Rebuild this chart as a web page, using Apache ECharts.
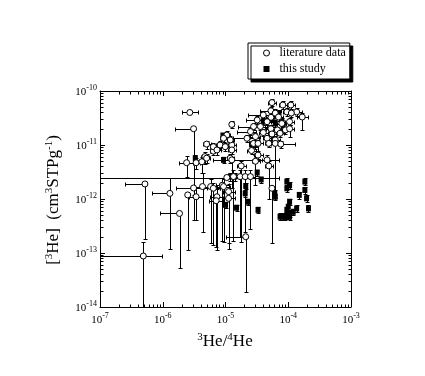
<!DOCTYPE html>
<html>
<head>
<meta charset="utf-8">
<script src="https://cdn.jsdelivr.net/npm/echarts@6/dist/echarts.min.js"></script>
<style>
  html, body { margin: 0; padding: 0; background: #fff; }
  #chart { width: 425px; height: 376px; }
</style>
</head>
<body>
<div id="chart"></div>
<script>
// axis ranges and tick decades
var xRange = [1e-7, 1e-3]
var yRange = [1e-14, 1e-10]
var xDecades = [-7, -6, -5, -4, -3]
var yDecades = [-14, -13, -12, -11, -10]
var mantissas = [2, 3, 4, 5, 6, 7, 8, 9]

// literature data: [3He/4He, [3He], xLow, xHigh, yLow, yHigh]
var literatureData = [
  [2.7e-6, 4.0e-11, 2.0e-6, 3.7e-6, null, null],
  [3.1e-6, 2.0e-11, 1.57e-6, 3.1e-6, 1.2e-12, 2.0e-11],
  [5.2e-7, 1.9e-12, 2.5e-7, 5.2e-7, 1.8e-13, 1.9e-12],
  [4.9e-7, 8.8e-14, 1.0e-7, 9.6e-7, 1.0e-14, 1.6e-13],
  [1.3e-6, 1.27e-12, 6.7e-7, 1.3e-6, 1.2e-13, 2.4e-12],
  [2.5e-6, 1.19e-12, null, null, 1.14e-13, 1.19e-12],
  [1.85e-6, 5.4e-13, 9.0e-7, 1.85e-6, 5.2e-14, 5.4e-13],
  [2.1e-5, 2.0e-13, 1.0e-5, 2.1e-5, 1.9e-14, 2.0e-13],
  [5.5e-5, 1.58e-12, null, null, 1.5e-13, 1.58e-12],
  [1.05e-5, 2.5e-12, 1.0e-7, 7.0e-5, null, null],
  [2.4e-6, 4.7e-12, 1.8e-6, 3.3e-6, 2.6e-12, 6.3e-12],
  [3.4e-6, 4.7e-12, 3.0e-6, 3.9e-6, 3.6e-12, 5.8e-12],
  [4.2e-6, 4.9e-12, 3.6e-6, 4.8e-6, 3.0e-12, 6.0e-12],
  [4.7e-6, 6.1e-12, 4.1e-6, 5.4e-6, 4.5e-12, 7.3e-12],
  [5.0e-6, 5.7e-12, 4.4e-6, 5.7e-6, 4.6e-12, 6.8e-12],
  [6.4e-6, 7.7e-12, 5.6e-6, 7.4e-6, 6.4e-12, 9.0e-12],
  [1.19e-5, 5.7e-12, 1.04e-5, 1.36e-5, 4.7e-12, 6.8e-12],
  [5.0e-6, 1.04e-11, 4.3e-6, 5.9e-6, 8.5e-12, 1.2e-11],
  [6.4e-6, 9.3e-12, 5.6e-6, 7.4e-6, 7.5e-12, 1.1e-11],
  [7.3e-6, 8.1e-12, 6.3e-6, 8.5e-6, 6.5e-12, 9.8e-12],
  [8.2e-6, 1.0e-11, 7.0e-6, 9.6e-6, 8.2e-12, 1.2e-11],
  [9.9e-6, 9.3e-12, 8.5e-6, 1.15e-5, 7.6e-12, 1.1e-11],
  [1.26e-5, 1.0e-11, 1.1e-5, 1.45e-5, 8.3e-12, 1.2e-11],
  [1.26e-5, 8.1e-12, 1.1e-5, 1.45e-5, 6.8e-12, 9.6e-12],
  [1.05e-5, 1.53e-11, 9.2e-6, 1.2e-5, 1.3e-11, 1.8e-11],
  [1.26e-5, 2.4e-11, 1.15e-5, 1.38e-5, 2.1e-11, 2.75e-11],
  [9.3e-6, 1.33e-11, 8.2e-6, 1.06e-5, 1.15e-11, 1.55e-11],
  [1.19e-5, 1.24e-11, 1.05e-5, 1.35e-5, 1.05e-11, 1.45e-11],
  [1.26e-5, 5.3e-12, 6.4e-6, 4.6e-5, 1.6e-12, 5.3e-12],
  [3.0e-5, 5.0e-12, 2.6e-5, 3.5e-5, 1.8e-12, 6.5e-12],
  [4.6e-5, 5.3e-12, 3.8e-5, 7.0e-5, 4.1e-12, 6.5e-12],
  [1.78e-5, 4.1e-12, 1.5e-5, 2.1e-5, 1.6e-13, 5.0e-12],
  [4.9e-5, 4.1e-12, 4.2e-5, 5.7e-5, 1.0e-12, 5.0e-12],
  [3.1e-6, 1.6e-12, 1.6e-6, 8.2e-6, 4.0e-13, 1.6e-12],
  [3.4e-6, 1.1e-12, 2.6e-6, 4.4e-6, 4.1e-13, 1.6e-12],
  [4.3e-6, 1.7e-12, 3.3e-6, 5.6e-6, 2.5e-13, 3.0e-12],
  [5.8e-6, 1.7e-12, 4.6e-6, 7.3e-6, 1.5e-13, 2.3e-12],
  [6.4e-6, 1.58e-12, 5.0e-6, 8.2e-6, 1.4e-13, 2.0e-12],
  [7.3e-6, 1.1e-12, 5.6e-6, 9.5e-6, 1.14e-13, 1.5e-12],
  [7.1e-6, 9.3e-13, 5.5e-6, 9.2e-6, 1.3e-13, 1.2e-12],
  [8.9e-6, 1.8e-12, 7.0e-6, 1.13e-5, 1.7e-13, 2.4e-12],
  [9.3e-6, 1.7e-12, 7.3e-6, 1.18e-5, 1.6e-13, 2.3e-12],
  [1.12e-5, 1.37e-12, 9.0e-6, 1.4e-5, 1.2e-13, 1.9e-12],
  [1.12e-5, 1.03e-12, 9.0e-6, 1.4e-5, 1.5e-13, 1.4e-12],
  [1.34e-5, 2.6e-12, 1.1e-5, 1.65e-5, 1.7e-13, 3.4e-12],
  [1.71e-5, 2.6e-12, 1.4e-5, 2.1e-5, 2.0e-13, 3.4e-12],
  [2.06e-5, 2.6e-12, 1.7e-5, 2.5e-5, 2.4e-13, 3.4e-12],
  [2.5e-5, 2.6e-12, 2.1e-5, 3.0e-5, 2.8e-13, 3.4e-12],
  [5.5e-5, 6.1e-11, 4.8e-5, 6.3e-5, 5.2e-11, 7.2e-11],
  [8.2e-5, 5.5e-11, 7.2e-5, 9.4e-5, 4.7e-11, 6.5e-11],
  [1.1e-4, 5.5e-11, 9.6e-5, 1.26e-4, 4.7e-11, 6.5e-11],
  [5.3e-5, 4.3e-11, 3.6e-5, 7.7e-5, 3.7e-11, 5.0e-11],
  [6.2e-5, 3.9e-11, 5.3e-5, 7.3e-5, 3.3e-11, 4.6e-11],
  [9.5e-5, 4.1e-11, 8.2e-5, 1.1e-4, 3.5e-11, 4.8e-11],
  [1.36e-4, 4.1e-11, 1.1e-4, 1.66e-4, 3.5e-11, 4.8e-11],
  [1.67e-4, 3.3e-11, 1.36e-4, 2.05e-4, 1.9e-11, 3.9e-11],
  [1.12e-4, 3.9e-11, 9.6e-5, 1.3e-4, 3.3e-11, 4.6e-11],
  [4.0e-5, 3.6e-11, 2.3e-5, 7.0e-5, 3.1e-11, 4.2e-11],
  [5.3e-5, 3.25e-11, 4.5e-5, 6.2e-5, 2.8e-11, 3.8e-11],
  [7.0e-5, 3.3e-11, 6.0e-5, 8.2e-5, 2.8e-11, 3.8e-11],
  [3.2e-5, 2.9e-11, 2.1e-5, 4.9e-5, 2.5e-11, 3.4e-11],
  [4.6e-5, 2.7e-11, 3.9e-5, 5.4e-5, 2.3e-11, 3.2e-11],
  [7.9e-5, 2.5e-11, 6.7e-5, 9.3e-5, 2.1e-11, 2.9e-11],
  [1.05e-4, 2.7e-11, 8.9e-5, 1.24e-4, 2.3e-11, 3.2e-11],
  [2.8e-5, 2.2e-11, 1.6e-5, 4.6e-5, 1.9e-11, 2.6e-11],
  [3.6e-5, 2.2e-11, 3.0e-5, 4.3e-5, 1.9e-11, 2.6e-11],
  [5.3e-5, 2.0e-11, 4.5e-5, 6.2e-5, 1.7e-11, 2.35e-11],
  [6.7e-5, 1.9e-11, 5.7e-5, 7.9e-5, 1.6e-11, 2.2e-11],
  [9.0e-5, 1.9e-11, 7.6e-5, 1.06e-4, 1.6e-11, 2.2e-11],
  [1.05e-4, 2.0e-11, 8.9e-5, 1.24e-4, 1.4e-11, 2.35e-11],
  [2.5e-5, 1.77e-11, 1.5e-5, 3.1e-5, 1.5e-11, 2.1e-11],
  [4.0e-5, 1.7e-11, 3.4e-5, 4.7e-5, 1.45e-11, 2.0e-11],
  [5.5e-5, 1.6e-11, 4.7e-5, 6.5e-5, 1.35e-11, 1.9e-11],
  [7.4e-5, 1.65e-11, 6.3e-5, 8.7e-5, 1.4e-11, 1.95e-11],
  [2.2e-5, 1.33e-11, 1.3e-5, 3.4e-5, 1.15e-11, 1.55e-11],
  [3.0e-5, 1.43e-11, 2.5e-5, 3.6e-5, 1.2e-11, 1.7e-11],
  [4.6e-5, 1.33e-11, 3.9e-5, 5.4e-5, 1.1e-11, 1.55e-11],
  [6.2e-5, 1.24e-11, 5.3e-5, 7.3e-5, 1.05e-11, 1.45e-11],
  [2.8e-5, 1.07e-11, 2.4e-5, 3.3e-5, 9.0e-12, 1.25e-11],
  [3.3e-5, 1.07e-11, 2.8e-5, 3.9e-5, 5.5e-12, 1.25e-11],
  [4.9e-5, 1.07e-11, 4.2e-5, 5.7e-5, 9.0e-12, 1.25e-11],
  [6.2e-5, 1.07e-11, 5.3e-5, 7.3e-5, 1.05e-12, 1.25e-11],
  [7.6e-5, 1.04e-11, 5.3e-5, 1.3e-4, 8.8e-12, 1.2e-11],
  [2.6e-5, 7.9e-12, 2.2e-5, 3.1e-5, 6.7e-12, 9.3e-12],
  [3.3e-5, 6.5e-12, 2.8e-5, 3.9e-5, 5.5e-12, 7.6e-12]
]

// this study: [3He/4He, [3He], yLow, yHigh]
var studyData = [
  [3.2e-5, 3.1e-12, 2.7e-12, 3.5e-12],
  [3.7e-5, 2.3e-12, 2.0e-12, 2.6e-12],
  [2.1e-5, 1.74e-12, 1.5e-12, 2.0e-12],
  [2.06e-5, 1.27e-12, 1.1e-12, 1.45e-12],
  [2.3e-5, 8.9e-13, 7.6e-13, 1.0e-12],
  [1.5e-5, 6.9e-13, 5.9e-13, 7.9e-13],
  [3.3e-5, 6.3e-13, 5.4e-13, 7.2e-13],
  [1.0e-5, 7.8e-13, 6.7e-13, 8.9e-13],
  [6.1e-5, 1.27e-12, 1.1e-12, 1.45e-12],
  [6.2e-5, 1.1e-12, 9.4e-13, 1.25e-12],
  [9.5e-5, 2.1e-12, 1.8e-12, 2.4e-12],
  [1.05e-4, 1.8e-12, 1.55e-12, 2.05e-12],
  [9.5e-5, 1.58e-12, 1.35e-12, 1.8e-12],
  [1.84e-4, 2.1e-12, 1.8e-12, 2.4e-12],
  [1.84e-4, 1.47e-12, 1.25e-12, 1.7e-12],
  [1.96e-4, 1.03e-12, 8.8e-13, 1.18e-12],
  [2.1e-4, 6.7e-13, 5.7e-13, 7.7e-13],
  [1.5e-4, 1.19e-12, 1.02e-12, 1.36e-12],
  [1.05e-4, 8.9e-13, 7.6e-13, 1.0e-12],
  [7.4e-5, 4.7e-13, 4.0e-13, 5.4e-13],
  [8.3e-5, 4.7e-13, 4.0e-13, 5.4e-13],
  [9.5e-5, 5.0e-13, 4.3e-13, 5.7e-13],
  [1.05e-4, 5.4e-13, 4.6e-13, 6.2e-13],
  [1.2e-4, 5.8e-13, 5.0e-13, 6.6e-13],
  [1.36e-4, 6.7e-13, 5.7e-13, 7.7e-13],
  [9.5e-5, 6.3e-13, 5.4e-13, 7.2e-13],
  [1.0e-4, 7.2e-13, 6.2e-13, 8.2e-13],
  [9.0e-5, 4.7e-13, 4.0e-13, 5.4e-13],
  [1.05e-4, 4.7e-13, 4.0e-13, 5.4e-13],
  [2.6e-5, 1.03e-11, 8.8e-12, 1.18e-11],
  [3.0e-5, 1.0e-11, 8.6e-12, 1.15e-11],
  [5.5e-5, 3.1e-11, 2.7e-11, 3.5e-11],
  [7.0e-5, 3.9e-11, 3.4e-11, 4.4e-11],
  [7.9e-5, 2.7e-11, 2.3e-11, 3.1e-11],
  [6.2e-5, 2.5e-11, 2.15e-11, 2.85e-11],
  [3.3e-6, 5.7e-12, 4.9e-12, 6.5e-12],
  [9.3e-6, 5.3e-12, 4.6e-12, 6.0e-12],
  [1.2e-5, 2.6e-12, 2.2e-12, 3.0e-12],
  [1.4e-5, 2.6e-12, 2.2e-12, 3.0e-12],
  [9.1e-6, 1.5e-11, 1.3e-11, 1.7e-11],
  [8.3e-5, 2.1e-11, 1.8e-11, 2.4e-11],
  [4.0e-5, 2.7e-11, 2.3e-11, 3.1e-11]
]

var FONT = 'Liberation Serif'

// minor tick positions (2..9 in every decade)
var xMinor = []
xDecades.slice(0, -1).forEach(function (e) {
  mantissas.forEach(function (m) { xMinor.push([m * Math.pow(10, e), 1e-12]) })
})
var yMinor = []
yDecades.slice(0, -1).forEach(function (e) {
  mantissas.forEach(function (m) { yMinor.push([1e-5, m * Math.pow(10, e)]) })
})

var px = function (v) { return Math.round(v) + 0.5 }

var seg = function (x1, y1, x2, y2) {
  return {
    type: 'line',
    shape: { x1: px(x1), y1: px(y1), x2: px(x2), y2: px(y2) },
    style: { stroke: '#000', lineWidth: 1 }
  }
}

/**
 * 误差棒
 */
var renderErr = function (xi, yi, xlo, xhi, ylo, yhi) {
  return function (params, api) {
    var c = api.coord([api.value(xi), api.value(yi)])
    var kids = []
    var cap = 2
    if (xlo != null) {
      var a = api.value(xlo), b = api.value(xhi)
      if (!isNaN(a) && !isNaN(b) && a !== b) {
        var pa = api.coord([a, api.value(yi)])[0]
        var pb = api.coord([b, api.value(yi)])[0]
        kids.push(seg(pa, c[1], pb, c[1]))
        kids.push(seg(pa, c[1] - cap, pa, c[1] + cap))
        kids.push(seg(pb, c[1] - cap, pb, c[1] + cap))
      }
    }
    var lo = api.value(ylo), hi = api.value(yhi)
    if (!isNaN(lo) && !isNaN(hi) && lo !== hi) {
      var ql = api.coord([api.value(xi), lo])[1]
      var qh = api.coord([api.value(xi), hi])[1]
      kids.push(seg(c[0], ql, c[0], qh))
      kids.push(seg(c[0] - cap, ql, c[0] + cap, ql))
      kids.push(seg(c[0] - cap, qh, c[0] + cap, qh))
    }
    return { type: 'group', children: kids }
  }
}

var renderXMinor = function (params, api) {
  var cs = params.coordSys
  var x = api.coord([api.value(0), api.value(1)])[0]
  return { type: 'group', children: [
    seg(x, cs.y + cs.height, x, cs.y + cs.height - 3),
    seg(x, cs.y, x, cs.y + 3)
  ] }
}
var renderYMinor = function (params, api) {
  var cs = params.coordSys
  var y = api.coord([api.value(0), api.value(1)])[1]
  return { type: 'group', children: [
    seg(cs.x, y, cs.x + 3, y),
    seg(cs.x + cs.width, y, cs.x + cs.width - 3, y)
  ] }
}

var supRich = {
  n: { fontSize: 11, fontFamily: FONT, color: '#000', verticalAlign: 'bottom', lineHeight: 14 },
  s: { fontSize: 8, fontFamily: FONT, color: '#000', verticalAlign: 'bottom', lineHeight: 8, padding: [0, 0, 6, 0] }
}
var powLabel = function (v) {
  return '{n|10}{s|' + Math.round(Math.log10(v)) + '}'
}

var baseAxis = {
  type: 'log',
  logBase: 10,
  axisLine: { lineStyle: { color: '#000', width: 1 } },
  axisTick: { inside: true, length: 5, lineStyle: { color: '#000' } },
  splitLine: { show: false },
  minorTick: { show: false }
}

var titleRich = {
  n: { fontSize: 17, fontFamily: FONT, color: '#000', verticalAlign: 'bottom', lineHeight: 18 },
  s: { fontSize: 11, fontFamily: FONT, color: '#000', verticalAlign: 'bottom', lineHeight: 11, padding: [0, 0, 7, 0] }
}

var chart = echarts.init(document.getElementById('chart'), null, { renderer: 'canvas' })
chart.setOption({
  animation: false,
  backgroundColor: '#fff',
  grid: { left: 100, top: 91, width: 251, height: 216, show: false },
  legend: {
    orient: 'vertical',
    left: 248,
    top: 43,
    padding: [4, 4, 4, 15],
    itemGap: 4,
    itemWidth: 6,
    itemHeight: 6,
    borderColor: '#000',
    borderWidth: 1,
    backgroundColor: '#fff',
    shadowColor: '#000',
    shadowBlur: 0,
    shadowOffsetX: 3,
    shadowOffsetY: 3,
    itemStyle: { borderWidth: 1 },
    textStyle: { fontFamily: FONT, fontSize: 12, color: '#000', padding: [0, 0, 0, 5] },
    data: ['literature data', 'this study']
  },
  xAxis: [
    Object.assign({}, baseAxis, {
      min: xRange[0], max: xRange[1], position: 'bottom',
      axisLabel: { margin: 5, formatter: powLabel, rich: supRich }
    }),
    Object.assign({}, baseAxis, {
      min: xRange[0], max: xRange[1], position: 'top',
      axisLabel: { show: false }
    })
  ],
  yAxis: [
    Object.assign({}, baseAxis, {
      min: yRange[0], max: yRange[1], position: 'left',
      axisLabel: { margin: 3, formatter: powLabel, rich: supRich }
    }),
    Object.assign({}, baseAxis, {
      min: yRange[0], max: yRange[1], position: 'right',
      axisLabel: { show: false }
    })
  ],
  graphic: [
    {
      type: 'text',
      x: 225, y: 341,
      style: {
        text: '{s|3}{n|He/}{s|4}{n|He}',
        align: 'center', verticalAlign: 'middle',
        rich: titleRich
      }
    },
    {
      type: 'text',
      x: 53, y: 200,
      rotation: Math.PI / 2,
      style: {
        text: '{n|[}{s|3}{n|He]  (cm}{s|3}{n|STPg}{s|-1}{n|)}',
        align: 'center', verticalAlign: 'middle',
        rich: titleRich
      }
    }
  ],
  series: [
    {
      type: 'custom', name: 'xminor', silent: true,
      renderItem: renderXMinor, data: xMinor, z: 1
    },
    {
      type: 'custom', name: 'yminor', silent: true,
      renderItem: renderYMinor, data: yMinor, z: 1
    },
    {
      type: 'custom', name: 'studyErr', silent: true, clip: true,
      renderItem: renderErr(0, 1, null, null, 2, 3),
      data: studyData, z: 2
    },
    {
      type: 'scatter', name: 'this study', symbol: 'rect', symbolSize: [5, 6],
      itemStyle: { color: '#000', opacity: 1 },
      data: studyData.map(function (d) { return [d[0], d[1]] }),
      z: 3
    },
    {
      type: 'custom', name: 'litErr', silent: true, clip: true,
      renderItem: renderErr(0, 1, 2, 3, 4, 5),
      data: literatureData, z: 4
    },
    {
      type: 'scatter', name: 'literature data', symbol: 'circle', symbolSize: 6,
      itemStyle: { color: '#fff', borderColor: '#000', borderWidth: 1, opacity: 1 },
      data: literatureData.map(function (d) { return [d[0], d[1]] }),
      z: 5
    }
  ]
})
</script>
</body>
</html>
